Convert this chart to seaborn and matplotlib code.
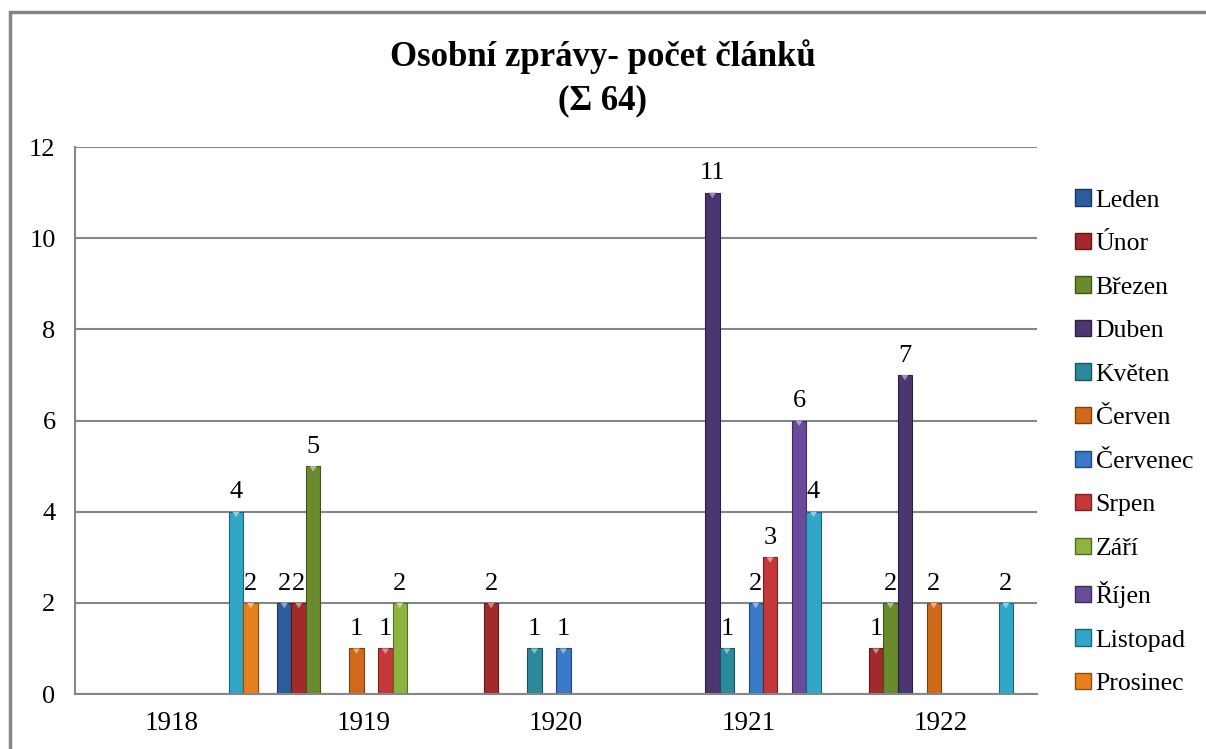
import matplotlib
matplotlib.use("Agg")
import matplotlib.pyplot as plt
import matplotlib.colors as mcolors
from matplotlib.patches import Polygon, Rectangle, Patch
import seaborn as sns
import pandas as pd

years = ["1918", "1919", "1920", "1921", "1922"]
months = ["Leden", "Únor", "Březen", "Duben", "Květen", "Červen",
          "Červenec", "Srpen", "Září", "Říjen", "Listopad", "Prosinec"]
leden = [0, 2, 0, 0, 0]
unor = [0, 2, 2, 0, 1]
brezen = [0, 5, 0, 0, 2]
duben = [0, 0, 0, 11, 7]
kveten = [0, 0, 1, 1, 0]
cerven = [0, 1, 0, 0, 2]
cervenec = [0, 0, 1, 2, 0]
srpen = [0, 1, 0, 3, 0]
zari = [0, 2, 0, 0, 0]
rijen = [0, 0, 0, 6, 0]
listopad = [4, 0, 0, 4, 2]
prosinec = [2, 0, 0, 0, 0]
series = [leden, unor, brezen, duben, kveten, cerven,
          cervenec, srpen, zari, rijen, listopad, prosinec]
colors = ["#2B5C9C", "#A12A2A", "#6A8A2E", "#4B3670", "#2A8A9C", "#D06A18",
          "#3A78C8", "#C43838", "#8DB43E", "#6A4A9A", "#30A6C8", "#E8801E"]
title = "Osobní zprávy- počet článků\n(Σ 64)"

rows = []
for m, vals in zip(months, series):
    for y, v in zip(years, vals):
        rows.append({"rok": y, "mesic": m, "pocet": v})
df = pd.DataFrame(rows)

sns.set_style("white")
plt.rcParams["font.family"] = ["Liberation Serif", "DejaVu Serif"]
plt.rcParams["text.color"] = "black"

fig = plt.figure(figsize=(12.06, 7.49), dpi=100)
ax = fig.add_axes([0.0622, 0.0734, 0.7978, 0.7303])

sns.barplot(data=df, x="rok", y="pocet", hue="mesic", hue_order=months,
            order=years, palette=colors, saturation=1, width=0.9, gap=0,
            dodge=True, ax=ax, legend=False, errorbar=None)

# edges, bevel tip and value labels
for cont, col, vals in zip(ax.containers, colors, series):
    dark = [c * 0.6 for c in mcolors.to_rgb(col)]
    light = [min(1, c + (1 - c) * 0.45) for c in mcolors.to_rgb(col)]
    for p in cont.patches:
        p.set_edgecolor(dark)
        p.set_linewidth(0.8)
        h = p.get_height()
        if h > 0:
            x0 = p.get_x()
            w = p.get_width()
            tip = Polygon([(x0 + w * 0.25, h), (x0 + w * 0.75, h), (x0 + w * 0.5, h - 0.12)],
                          closed=True, facecolor=light, edgecolor="none", zorder=3)
            ax.add_patch(tip)
    ax.bar_label(cont, labels=[str(v) if v > 0 else "" for v in vals],
                 padding=6, fontsize=19, color="black")

ax.set_ylim(0, 12)
ax.set_yticks(range(0, 13, 2))
ax.set_xlabel("")
ax.set_ylabel("")
ax.grid(axis="y", color="#868686", linewidth=1.5)
ax.set_axisbelow(True)
for s in ["top", "right"]:
    ax.spines[s].set_visible(False)
for s in ["left", "bottom"]:
    ax.spines[s].set_color("#868686")
    ax.spines[s].set_linewidth(1.5)
ax.tick_params(axis="both", length=0, colors="black")
ax.tick_params(axis="y", pad=14, labelsize=19)
ax.tick_params(axis="x", pad=12, labelsize=19.5)

fig.suptitle(title, fontsize=25, fontweight="bold", y=0.947, linespacing=1.4,
             color="black")

handles = [Patch(facecolor=c, edgecolor=[v * 0.6 for v in mcolors.to_rgb(c)]) for c in colors]
fig.legend(handles, months, loc="upper left", bbox_to_anchor=(0.883, 0.761),
           frameon=False, fontsize=18.5, handlelength=0.6, handleheight=0.6,
           handletextpad=0.2, labelspacing=0.83, borderaxespad=0)

fig.patches.append(Rectangle((10 / 1206, -0.01), 1.05, 1 - 12 / 749 + 0.01,
                             transform=fig.transFigure, fill=False,
                             edgecolor="#868686", linewidth=2.5))

fig.savefig("out.png", dpi=100)
